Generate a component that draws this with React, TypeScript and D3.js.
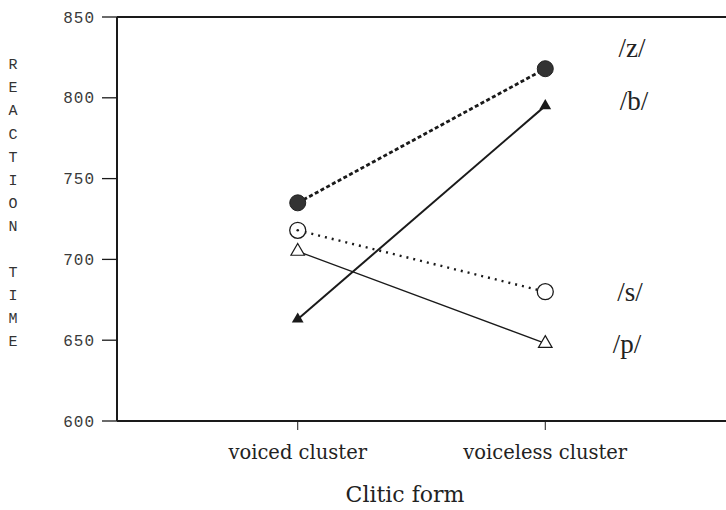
import React, { useEffect, useRef } from 'react';
import * as d3 from 'd3';

const categories = ['voiced cluster', 'voiceless cluster'];
const yTicks = [600, 650, 700, 750, 800, 850];
const zValues = [735, 818];
const bValues = [663, 795];
const sValues = [718, 680];
const pValues = [705, 648];
const seriesNames = ['/z/', '/b/', '/s/', '/p/'];
const yLabel = 'REACTION TIME';
const xLabel = 'Clitic form';

const App = () => {
  const svgRef = useRef<SVGSVGElement>(null);

  useEffect(() => {
    const width = 726;
    const height = 510;
    const margin = { top: 17, right: 0, bottom: 89, left: 117 };

    const root = d3.select(svgRef.current);
    root.selectAll('*').remove();
    root.attr('width', width).attr('height', height);

    const x = d3.scalePoint<string>()
      .domain(categories)
      .range([margin.left, width - margin.right])
      .padding(0.73);

    const y = d3.scaleLinear()
      .domain([600, 850])
      .range([height - margin.bottom, margin.top]);

    const ink = '#1a1a1a';

    // frame (top, bottom, left)
    root.append('line')
      .attr('x1', margin.left).attr('x2', width)
      .attr('y1', y(850)).attr('y2', y(850))
      .attr('stroke', ink).attr('stroke-width', 2);
    root.append('line')
      .attr('x1', margin.left).attr('x2', width)
      .attr('y1', y(600)).attr('y2', y(600))
      .attr('stroke', ink).attr('stroke-width', 2);
    root.append('line')
      .attr('x1', margin.left).attr('x2', margin.left)
      .attr('y1', y(850)).attr('y2', y(600))
      .attr('stroke', ink).attr('stroke-width', 2);

    // y axis ticks
    const yAxis = root.append('g');
    yAxis.selectAll('line.tick')
      .data(yTicks)
      .enter().append('line')
      .attr('x1', margin.left - 15).attr('x2', margin.left)
      .attr('y1', d => y(d)).attr('y2', d => y(d))
      .attr('stroke', ink).attr('stroke-width', 1.3);
    yAxis.selectAll('text')
      .data(yTicks)
      .enter().append('text')
      .attr('x', margin.left - 22)
      .attr('y', d => y(d))
      .attr('dy', '0.35em')
      .attr('text-anchor', 'end')
      .style('font-family', '"Liberation Mono", monospace')
      .style('font-size', '16px')
      .style('letter-spacing', '1px')
      .style('fill', '#3a3a3a')
      .text(d => d);

    // vertical y label, one letter per row
    const letters = yLabel.split('');
    root.append('g').selectAll('text')
      .data(letters)
      .enter().append('text')
      .attr('x', 13)
      .attr('y', (d, i) => 64 + i * 23.1)
      .attr('dy', '0.35em')
      .attr('text-anchor', 'middle')
      .style('font-family', '"Liberation Mono", monospace')
      .style('font-size', '15px')
      .style('fill', '#333')
      .text(d => d);

    // x axis ticks
    const xAxis = root.append('g');
    xAxis.selectAll('line')
      .data(categories)
      .enter().append('line')
      .attr('x1', d => x(d)!).attr('x2', d => x(d)!)
      .attr('y1', y(600)).attr('y2', y(600) + 9)
      .attr('stroke', ink).attr('stroke-width', 1);
    xAxis.selectAll('text')
      .data(categories)
      .enter().append('text')
      .attr('x', d => x(d)!)
      .attr('y', y(600) + 38)
      .attr('text-anchor', 'middle')
      .style('font-family', '"DejaVu Serif", serif')
      .style('font-size', '19.5px')
      .style('fill', '#222')
      .text(d => d);

    root.append('text')
      .attr('x', 405)
      .attr('y', 502)
      .attr('text-anchor', 'middle')
      .style('font-family', '"DejaVu Serif", serif')
      .style('font-size', '22px')
      .style('font-weight', '300')
      .style('fill', '#222')
      .text(xLabel);

    const pts = (vals: number[]) => vals.map((v, i) => [x(categories[i])!, y(v)] as [number, number]);
    const line = d3.line();

    // /p/ thin solid
    root.append('path').attr('d', line(pts(pValues)))
      .attr('fill', 'none').attr('stroke', ink).attr('stroke-width', 1.3);
    // /s/ dotted
    root.append('path').attr('d', line(pts(sValues)))
      .attr('fill', 'none').attr('stroke', ink).attr('stroke-width', 2.4)
      .attr('stroke-dasharray', '2,5');
    // /b/ solid
    root.append('path').attr('d', line(pts(bValues)))
      .attr('fill', 'none').attr('stroke', ink).attr('stroke-width', 2);
    // /z/ dashed
    root.append('path').attr('d', line(pts(zValues)))
      .attr('fill', 'none').attr('stroke', ink).attr('stroke-width', 2.8)
      .attr('stroke-dasharray', '4,2.5');

    const tri = d3.symbol().type(d3.symbolTriangle);

    // markers
    root.append('g').selectAll('circle')
      .data(pts(zValues))
      .enter().append('circle')
      .attr('cx', d => d[0]).attr('cy', d => d[1]).attr('r', 8)
      .attr('fill', '#333').attr('stroke', '#222').attr('stroke-width', 1);

    root.append('g').selectAll('circle')
      .data(pts(sValues))
      .enter().append('circle')
      .attr('cx', d => d[0]).attr('cy', d => d[1]).attr('r', 8)
      .attr('fill', 'white').attr('stroke', ink).attr('stroke-width', 1.3);
    root.append('circle')
      .attr('cx', pts(sValues)[0][0]).attr('cy', pts(sValues)[0][1]).attr('r', 1.3)
      .attr('fill', ink);

    root.append('g').selectAll('path')
      .data(pts(bValues))
      .enter().append('path')
      .attr('d', tri.size(60)())
      .attr('transform', d => `translate(${d[0]},${d[1]})`)
      .attr('fill', ink);

    root.append('g').selectAll('path')
      .data(pts(pValues))
      .enter().append('path')
      .attr('d', tri.size(80)())
      .attr('transform', d => `translate(${d[0]},${d[1]})`)
      .attr('fill', 'white').attr('stroke', ink).attr('stroke-width', 1.2);

    // series labels at the right
    const labelVals = [zValues[1] + 13, bValues[1] + 3, sValues[1], pValues[1]];
    const labelX = [632, 634, 630, 627];
    root.append('g').selectAll('text')
      .data(seriesNames)
      .enter().append('text')
      .attr('x', (d, i) => labelX[i])
      .attr('y', (d, i) => y(labelVals[i]))
      .attr('dy', '0.35em')
      .attr('text-anchor', 'middle')
      .style('font-family', '"Liberation Serif", serif')
      .style('font-size', '27px')
      .style('font-weight', '300')
      .style('fill', '#222')
      .text(d => d);
  }, []);

  return (
    <div style={{ position: 'absolute', left: 0, top: 0, background: 'white' }}>
      <svg ref={svgRef}></svg>
    </div>
  );
};

export default App;
